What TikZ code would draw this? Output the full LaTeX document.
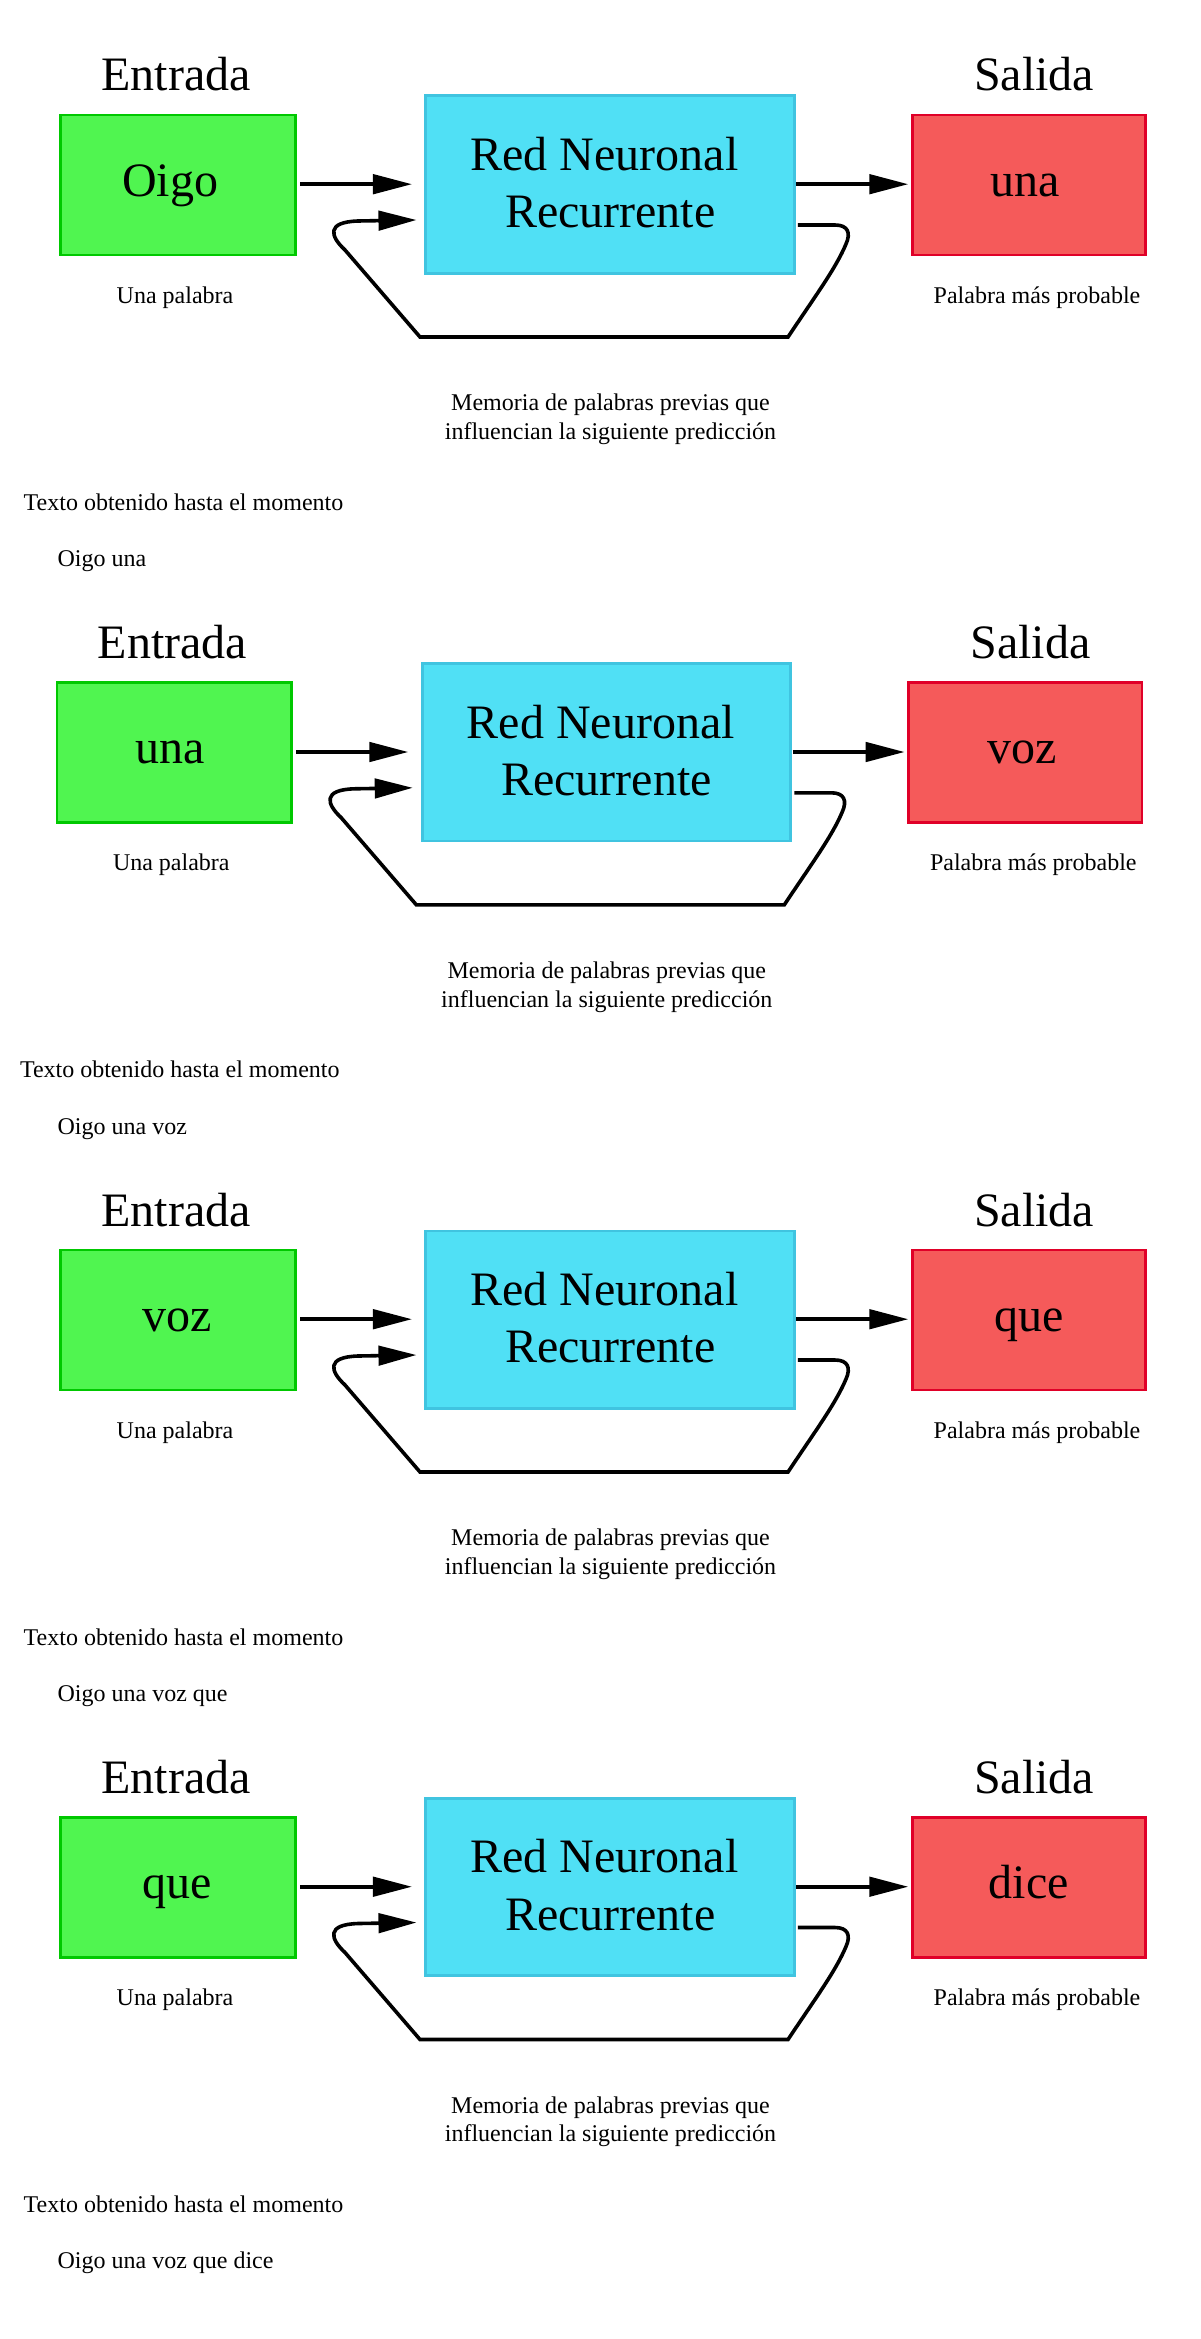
\documentclass[tikz,border=0pt]{standalone}
\usepackage{fontspec}
\setmainfont{Liberation Serif}
\usetikzlibrary{arrows.meta,calc}
\definecolor{gfill}{HTML}{50F550}
\definecolor{gdraw}{HTML}{00C800}
\definecolor{bfill}{HTML}{50E0F5}
\definecolor{bdraw}{HTML}{40C4E0}
\definecolor{rfill}{HTML}{F55A5A}
\definecolor{rdraw}{HTML}{E00028}
\newcommand\myBig{\fontsize{48}{57.6}\selectfont}
\newcommand\mySmall{\fontsize{24}{28.8}\selectfont}
\tikzset{
  box/.style={draw, line width=2.8pt, inner sep=0pt, font=\myBig, text height=32pt, text depth=10pt},
  gbox/.style={box, fill=gfill, draw=gdraw, minimum width=234.5pt, minimum height=139.9pt},
  bbox/.style={box, fill=bfill, draw=bdraw, minimum width=368.7pt, minimum height=177.2pt},
  rbox/.style={box, fill=rfill, draw=rdraw, minimum width=233.5pt, minimum height=139.9pt},
  bigtxt/.style={font=\myBig, inner sep=0pt, anchor=base},
  smalltxt/.style={font=\mySmall, inner sep=0pt, anchor=base},
  arr/.style={line width=3.6pt, -{Triangle[length=39pt,width=19.4pt]}},
  looparr/.style={line width=3.6pt, -{Triangle[length=38pt,width=19.4pt]}},
}
% #1 id, #2 dx, #3 dy, #4 input, #5 output, #6 text so far, #7 input text shift, #8 output text shift
\newcommand\mypanel[8]{%
  \begin{scope}[shift={(#2,#3)}]
    \node[gbox] (in#1) at (178,185) {\hspace*{#7}#4};
    \node[bbox] (rnn#1) at (610.2,184.5) {};
    \node[rbox] (out#1) at (1028.9,185) {\hspace*{#8}#5};
    \node[bigtxt] (ent#1) at (176,91) {Entrada};
    \node[bigtxt] (sal#1) at (1034,91) {Salida};
    \node[bigtxt] (rnnA#1) at (604.5,170.3) {Red Neuronal};
    \node[bigtxt] (rnnB#1) at (610.3,227.7) {Recurrente};
    \node[smalltxt] (una#1) at (175,303) {Una palabra};
    \node[smalltxt] (pal#1) at (1037,303) {Palabra más probable};
    \node[smalltxt] (memA#1) at (610.5,410.6) {Memoria de palabras previas que};
    \node[smalltxt] (memB#1) at (610.5,439.3) {influencian la siguiente predicción};
    \node[smalltxt, anchor=base west] (tex#1) at (23.5,510) {Texto obtenido hasta el momento};
    \draw[arr] ($(in#1.east)+(3.5,-0.8)$) -- ($(rnn#1.west)+(-12.5,-0.3)$);
    \draw[arr] ($(rnn#1.east)+(0.5,-0.3)$) -- ($(out#1.west)+(-2.5,-0.8)$);
    \draw[looparr] ($(rnn#1.east)+(2,40.5)$) -- (835,225)
      .. controls (848,225) and (851,233) .. (846,244)
      .. controls (836,268) and (816,295) .. (788,337)
      -- (420,337) -- (345,250)
      .. controls (330,236) and (326,222) .. (358,221)
      -- ($(rnn#1.west)+(-8,35.5)$);
  \end{scope}
  \node[smalltxt, anchor=base west] (sofar#1) at ($(57.4,566.4)+(0,#3)$) {#6};
}
\begin{document}
\begin{tikzpicture}[x=1pt,y=-1pt]
  \useasboundingbox (0,0) rectangle (1200,2339);
  \fill[white] (0,0) rectangle (1200,2339);
  \mypanel{1}{0}{0}{Oigo}{una}{Oigo una}{-16pt}{-8pt}
  \mypanel{2}{-3.7}{567.8}{una}{voz}{Oigo una voz}{-8pt}{-6pt}
  \mypanel{3}{0}{1135}{voz}{que}{Oigo una voz que}{-2pt}{0pt}
  \mypanel{4}{0}{1702.5}{que}{dice}{Oigo una voz que dice}{-2pt}{0pt}
\end{tikzpicture}
\end{document}
